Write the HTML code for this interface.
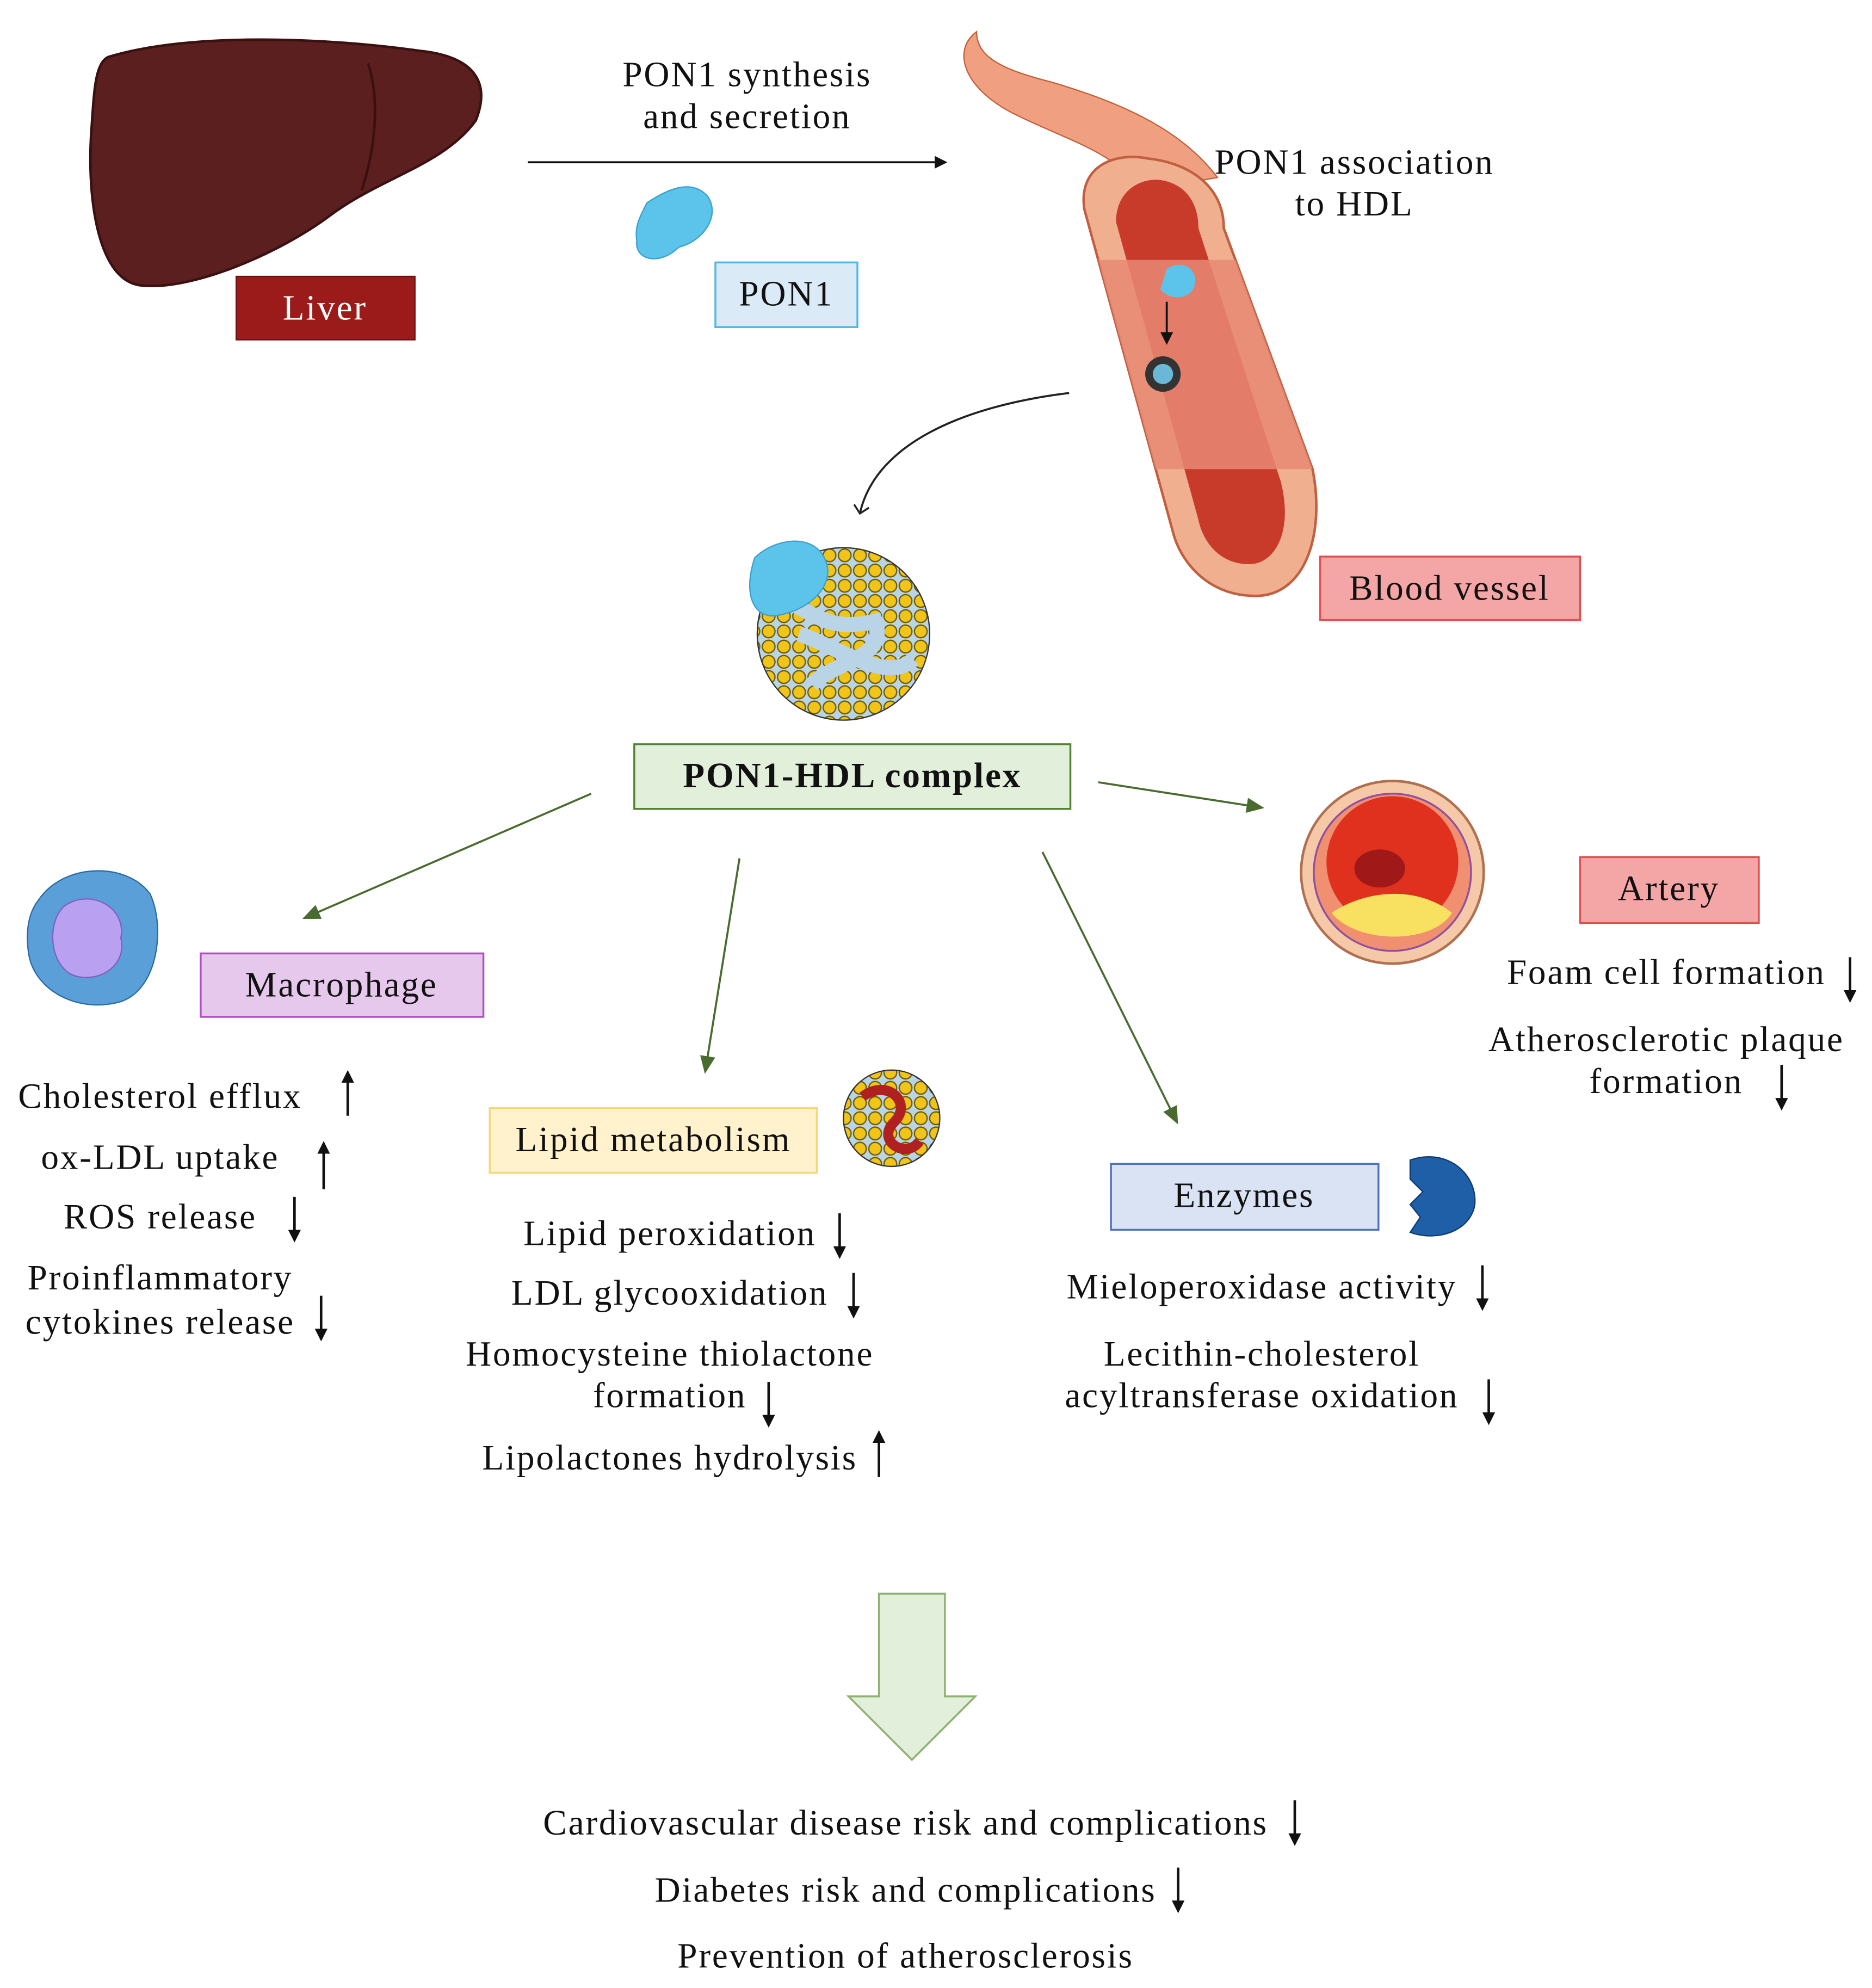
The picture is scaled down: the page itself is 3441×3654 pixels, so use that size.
<!DOCTYPE html>
<html><head><meta charset="utf-8"><style>
html,body{margin:0;padding:0;background:#fff;}
svg{display:block;}
text{font-family:"Liberation Serif",serif;font-size:28px;letter-spacing:1.2px;fill:#111;}
</style></head><body>
<svg width="3441" height="3654" viewBox="0 0 1476 1568" xmlns="http://www.w3.org/2000/svg">
<defs>
<marker id="ab" markerWidth="10" markerHeight="10" refX="8" refY="5" orient="auto" markerUnits="userSpaceOnUse"><path d="M0,0 L10,5 L0,10 Z" fill="#111"/></marker>
<marker id="ag" markerWidth="14" markerHeight="12" refX="12" refY="6" orient="auto" markerUnits="userSpaceOnUse"><path d="M0,0 L14,6 L0,12 Z" fill="#4a6b2f"/></marker>
<marker id="ao" markerWidth="16" markerHeight="16" refX="8" refY="8" orient="auto" markerUnits="userSpaceOnUse"><path d="M2,2 L8,8 L2,14" fill="none" stroke="#222" stroke-width="1.5"/></marker>
<pattern id="dots" width="12" height="12" patternUnits="userSpaceOnUse"><rect width="12" height="12" fill="#b9d4e6"/><circle cx="6" cy="6" r="5" fill="#f0c419" stroke="#6b5a00" stroke-width="1"/></pattern>
<clipPath id="tube"><path d="M855,165 C850,130 880,120 905,125 C935,128 965,145 965,180 L1035,370 C1045,420 1030,470 990,470 C950,470 930,440 925,420 Z"/></clipPath>
</defs>

<path d="M85,45 C150,25 260,30 330,40 C380,45 385,70 375,95 C350,130 300,140 260,170 C220,200 150,230 110,225 C75,220 68,150 72,100 C74,70 75,50 85,45 Z" fill="#5c1f1f" stroke="#3a1010" stroke-width="2"/>
<path d="M290,50 C300,80 295,120 285,150" fill="none" stroke="#3a1010" stroke-width="2"/>
<rect x="186" y="218" width="141" height="50" fill="#9b1b1b" stroke="#6a0e0e"/>
<text x="256" y="252" text-anchor="middle" style="fill:#fff">Liver</text>

<line x1="416" y1="128" x2="745" y2="128" stroke="#111" stroke-width="1.6" marker-end="url(#ab)"/>
<text x="589" y="68" text-anchor="middle">PON1 synthesis</text>
<text x="589" y="101" text-anchor="middle">and secretion</text>
<path d="M510,160 C525,150 545,140 558,155 C568,170 555,190 535,195 C520,210 500,205 502,190 C500,178 505,170 510,160 Z" fill="#5cc4ea" stroke="#3aa0cf"/>
<rect x="564" y="207" width="112" height="51" fill="#dbeaf7" stroke="#4db8e8" stroke-width="1.5"/>
<text x="620" y="241" text-anchor="middle">PON1</text>

<path d="M770,25 C750,40 760,70 800,90 C840,110 880,120 900,150 L960,140 C930,100 880,80 830,65 C790,55 770,45 770,25 Z" fill="#f0a080" stroke="#c0603a"/>
<path d="M855,165 C850,130 880,120 905,125 C935,128 965,145 965,180 L1035,370 C1045,420 1030,470 990,470 C950,470 930,440 925,420 Z" fill="#f0b090" stroke="#c06040" stroke-width="2"/>
<path d="M880,175 C880,150 900,140 915,142 C935,145 945,160 945,180 L1010,380 C1020,420 1005,445 985,445 C960,445 948,425 945,410 Z" fill="#c83a2a"/>
<rect x="850" y="205" width="200" height="165" fill="#e88a74" opacity="0.85" clip-path="url(#tube)"/>
<path d="M920,212 C930,205 945,210 942,225 C938,238 920,236 915,228 Z" fill="#5cc4ea"/>
<line x1="920" y1="238" x2="920" y2="270" stroke="#111" stroke-width="1.6" marker-end="url(#ab)"/>
<circle cx="917" cy="295" r="14" fill="#333"/><circle cx="917" cy="295" r="8" fill="#6ab8d8"/>
<text x="1068" y="137" text-anchor="middle">PON1 association</text>
<text x="1068" y="170" text-anchor="middle">to HDL</text>
<rect x="1041" y="439" width="205" height="50" fill="#f4a6a6" stroke="#e05050" stroke-width="1.5"/>
<text x="1143" y="473" text-anchor="middle">Blood vessel</text>

<path d="M843,310 C760,320 690,350 678,405" fill="none" stroke="#222" stroke-width="1.6" marker-end="url(#ao)"/>

<circle cx="665" cy="500" r="68" fill="url(#dots)" stroke="#333" stroke-width="1"/>
<path d="M610,470 C640,480 650,500 690,490 C700,520 660,520 640,540 M630,500 C660,510 700,540 720,520" fill="none" stroke="#b9d4e6" stroke-width="12"/>
<path d="M595,440 C610,425 640,420 650,440 C660,460 640,480 615,485 C595,490 585,470 595,440 Z" fill="#5cc4ea" stroke="#3aa0cf"/>

<rect x="500" y="587" width="344" height="51" fill="#e2efda" stroke="#548235" stroke-width="1.5"/>
<text x="672" y="621" text-anchor="middle" font-weight="bold">PON1-HDL complex</text>

<g stroke="#4a6b2f" stroke-width="1.6">
<line x1="466" y1="626" x2="240" y2="724" marker-end="url(#ag)"/>
<line x1="583" y1="677" x2="556" y2="845" marker-end="url(#ag)"/>
<line x1="822" y1="672" x2="928" y2="885" marker-end="url(#ag)"/>
<line x1="866" y1="617" x2="995" y2="637" marker-end="url(#ag)"/>
</g>

<path d="M30,710 C50,680 100,680 118,705 C130,730 125,780 95,790 C60,800 25,780 22,750 C20,735 22,720 30,710 Z" fill="#5a9fd8" stroke="#2a6aa8"/>
<path d="M50,715 C70,700 100,715 95,740 C100,760 80,775 60,770 C40,765 35,730 50,715 Z" fill="#b9a0f0" stroke="#8060c0"/>
<rect x="158" y="752" width="223" height="50" fill="#e6c8ec" stroke="#b050c0" stroke-width="1.5"/>
<text x="269" y="786" text-anchor="middle">Macrophage</text>

<g stroke="#111" stroke-width="2">
<line x1="274" y1="880" x2="274" y2="846" marker-end="url(#ab)"/>
<line x1="255" y1="938" x2="255" y2="902" marker-end="url(#ab)"/>
<line x1="232" y1="944" x2="232" y2="978" marker-end="url(#ab)"/>
<line x1="253" y1="1022" x2="253" y2="1056" marker-end="url(#ab)"/>
<line x1="662" y1="957" x2="662" y2="991" marker-end="url(#ab)"/>
<line x1="673" y1="1004" x2="673" y2="1038" marker-end="url(#ab)"/>
<line x1="606" y1="1090" x2="606" y2="1124" marker-end="url(#ab)"/>
<line x1="693" y1="1165" x2="693" y2="1130" marker-end="url(#ab)"/>
<line x1="1169" y1="998" x2="1169" y2="1032" marker-end="url(#ab)"/>
<line x1="1174" y1="1088" x2="1174" y2="1122" marker-end="url(#ab)"/>
<line x1="1459" y1="755" x2="1459" y2="789" marker-end="url(#ab)"/>
<line x1="1405" y1="840" x2="1405" y2="874" marker-end="url(#ab)"/>
<line x1="1021" y1="1420" x2="1021" y2="1454" marker-end="url(#ab)"/>
<line x1="929" y1="1473" x2="929" y2="1507" marker-end="url(#ab)"/>
</g>
<text x="126" y="874" text-anchor="middle">Cholesterol efflux</text>
<text x="126" y="922" text-anchor="middle">ox-LDL uptake</text>
<text x="126" y="969" text-anchor="middle">ROS release</text>
<text x="126" y="1017" text-anchor="middle">Proinflammatory</text>
<text x="126" y="1052" text-anchor="middle">cytokines release</text>

<rect x="386" y="874" width="258" height="51" fill="#fff2cc" stroke="#f5d77a" stroke-width="1.5"/>
<text x="515" y="908" text-anchor="middle">Lipid metabolism</text>
<circle cx="703" cy="882" r="38" fill="url(#dots)" stroke="#333"/>
<path d="M680,865 C700,850 720,870 705,885 C690,900 715,915 725,900" fill="none" stroke="#b02020" stroke-width="8"/>
<text x="528" y="982" text-anchor="middle">Lipid peroxidation</text>
<text x="528" y="1029" text-anchor="middle">LDL glycooxidation</text>
<text x="528" y="1077" text-anchor="middle">Homocysteine thiolactone</text>
<text x="528" y="1110" text-anchor="middle">formation</text>
<text x="528" y="1159" text-anchor="middle">Lipolactones hydrolysis</text>

<rect x="876" y="918" width="211" height="52" fill="#dae3f3" stroke="#4f72c0" stroke-width="1.5"/>
<text x="981" y="952" text-anchor="middle">Enzymes</text>
<path d="M1112,915 C1140,905 1165,925 1163,950 C1160,970 1135,980 1112,972 L1120,960 L1112,950 L1122,940 L1112,930 Z" fill="#1f5fa8" stroke="#0e3a70"/>
<text x="995" y="1024" text-anchor="middle">Mieloperoxidase activity</text>
<text x="995" y="1077" text-anchor="middle">Lecithin-cholesterol</text>
<text x="995" y="1110" text-anchor="middle">acyltransferase oxidation</text>

<circle cx="1098" cy="688" r="72" fill="#f5c8a8" stroke="#b07050" stroke-width="2"/>
<circle cx="1098" cy="688" r="62" fill="#f09070" stroke="#9050a0" stroke-width="1.5"/>
<circle cx="1098" cy="680" r="52" fill="#e0301e"/>
<ellipse cx="1088" cy="685" rx="20" ry="15" fill="#a01818"/>
<path d="M1050,720 C1080,700 1120,700 1145,720 C1130,745 1070,745 1050,720 Z" fill="#f8e060"/>
<rect x="1246" y="676" width="141" height="52" fill="#f4a6a6" stroke="#e05050" stroke-width="1.5"/>
<text x="1316" y="710" text-anchor="middle">Artery</text>
<text x="1314" y="776" text-anchor="middle">Foam cell formation</text>
<text x="1314" y="829" text-anchor="middle">Atherosclerotic plaque</text>
<text x="1314" y="862" text-anchor="middle">formation</text>

<path d="M693,1257 L745,1257 L745,1338 L769,1338 L719,1388 L669,1338 L693,1338 Z" fill="#e2efda" stroke="#8fb070" stroke-width="1.5"/>
<text x="714" y="1447" text-anchor="middle">Cardiovascular disease risk and complications</text>
<text x="714" y="1500" text-anchor="middle">Diabetes risk and complications</text>
<text x="714" y="1552" text-anchor="middle">Prevention of atherosclerosis</text>
</svg>
</body></html>
